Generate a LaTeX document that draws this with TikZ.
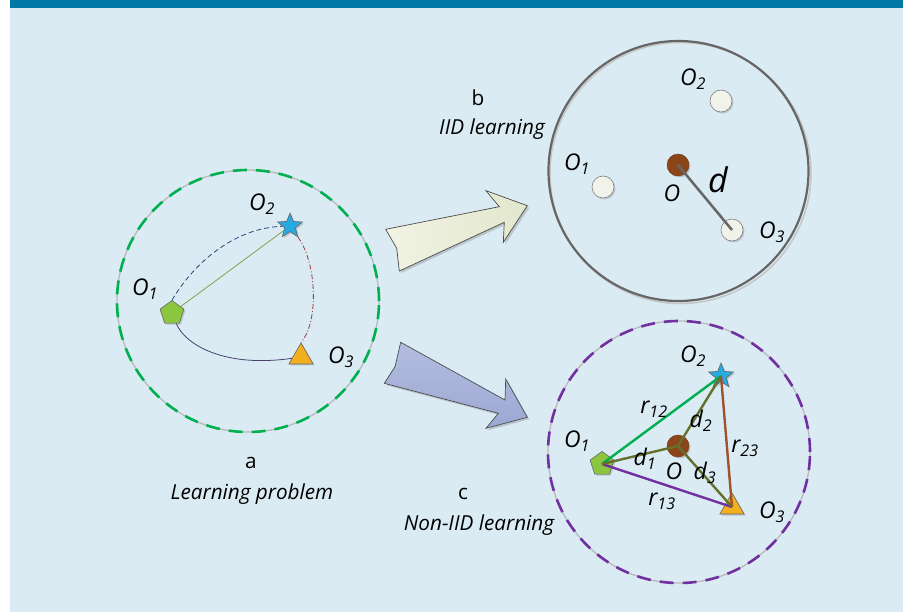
\documentclass[tikz,border=0pt]{standalone}
\usepackage{fontspec}
\setmainfont{Open Sans}
\usetikzlibrary{shapes.geometric,shadows}
\definecolor{bg}{HTML}{DAEBF4}
\definecolor{bar}{HTML}{0078A6}
\definecolor{dgreen}{HTML}{00B04F}
\definecolor{dpurple}{HTML}{7030A0}
\definecolor{pentgreen}{HTML}{8CC63F}
\definecolor{starblue}{HTML}{27A9E1}
\definecolor{trior}{HTML}{F2B01E}
\definecolor{brownc}{HTML}{8B4519}
\definecolor{olive}{HTML}{66702E}
\definecolor{rbrown}{HTML}{A0522D}
\definecolor{rgreen}{HTML}{00B050}
\definecolor{thinline}{HTML}{8AA04A}
\definecolor{navyd}{HTML}{2B4A7A}
\definecolor{dred}{HTML}{9A3A3A}
\definecolor{curvep}{HTML}{4A4070}
\definecolor{ringgray}{HTML}{666666}
\definecolor{whitec}{HTML}{F1F2EA}
\definecolor{arrAl}{HTML}{F2F3E4}
\definecolor{arrAr}{HTML}{E1E7CC}
\definecolor{arrBt}{HTML}{B4BDE0}
\definecolor{arrBb}{HTML}{9DA8D3}
\begin{document}
\begin{tikzpicture}[x=1pt,y=-1pt,
  shad/.style={drop shadow={shadow xshift=1.5pt,shadow yshift=-1.5pt,opacity=.35}},
  pent/.style={regular polygon,regular polygon sides=5,minimum size=25pt,inner sep=0pt,fill=pentgreen,draw=gray!80!black,line width=.6pt,shad},
  starn/.style={star,star points=5,star point ratio=2.3,minimum size=26pt,inner sep=0pt,fill=starblue,draw=gray!80!black,line width=.6pt,shad},
  trin/.style={regular polygon,regular polygon sides=3,minimum size=28pt,inner sep=0pt,fill=trior,draw=gray!80!black,line width=.6pt,shad},
  wdot/.style={circle,minimum size=22pt,inner sep=0pt,fill=whitec,draw=gray,line width=.6pt,shad},
  bdot/.style={circle,minimum size=22pt,inner sep=0pt,fill=brownc,draw=brownc!80!black,line width=.4pt,shad},
  lab/.style={font=\fontsize{23}{23}\selectfont\itshape,inner sep=0pt},
  captxt/.style={font=\fontsize{20.7}{22}\selectfont,inner sep=0pt},
  captxti/.style={font=\fontsize{20.7}{22}\selectfont\itshape,inner sep=0pt},
  rline/.style={line width=2.4pt},
  bigarrow/.style={draw=gray!60!black,line width=.7pt,drop shadow={shadow xshift=2pt,shadow yshift=-2pt,opacity=.35}}
]
\useasboundingbox (0,0) rectangle (903,612);
\fill[bar] (10,0) rectangle (903,8);
\fill[bg] (10,8) rectangle (903,612);

% ---------- circle a ----------
\node[circle,minimum size=262pt,inner sep=0pt,draw=gray!55,line width=1.3pt,
  postaction={draw=dgreen,line width=2.6pt,dash pattern=on 14pt off 9pt}] (ca) at (248,301) {};
\node[pent] (a1) at (172,313) {};
\node[starn] (a2) at (290,226) {};
\node[trin] (a3) at (301,357) {};
\draw[navyd,line width=.8pt,dash pattern=on 5pt off 3pt] (a1.north) .. controls (192,266) and (232,228) .. (a2);
\draw[thinline,line width=.8pt] (a1) -- (a2);
\draw[dred,line width=.8pt,dash pattern=on 5pt off 2pt on 1pt off 2pt] (a2) .. controls (318,265) and (318,324) .. (a3.north);
\draw[curvep,line width=.8pt] (a1) .. controls (185,345) and (225,368) .. (a3);
\node[lab] (la1) at (145,289) {O\textsubscript{1}};
\node[lab] (la2) at (262,204) {O\textsubscript{2}};
\node[lab] (la3) at (341,357) {O\textsubscript{3}};
\node[captxt] (capa) at (251,463) {a};
\node[captxti] (capai) at (252,494) {Learning problem};

% ---------- arrows ----------
\path[bigarrow,left color=arrAl,right color=arrAr] (385.7,229.3) -- (396.7,248.3) -- (399.3,271) -- (504.3,222.3) -- (503.3,242.3) -- (527.3,205.7) -- (486,190.7) -- (499.3,206.7) -- cycle;
\path[bigarrow,top color=arrBt,bottom color=arrBb] (400.7,342.3) -- (395,366.7) -- (384.3,383.3) -- (498.3,413.3) -- (486,428.3) -- (527.3,417.3) -- (505.7,379) -- (505,400) -- cycle;

% ---------- circle b ----------
\node[circle,minimum size=261pt,inner sep=0pt,draw=gray!45,line width=1.5pt] (cbs) at (680.5,173) {};
\node[circle,minimum size=260pt,inner sep=0pt,draw=ringgray,line width=2.2pt] (cb) at (678.5,171) {};
\node[wdot] (b2) at (721,101) {};
\node[wdot] (b1) at (603,187) {};
\node[wdot] (b3) at (732,230) {};
\node[bdot] (bO) at (678,165) {};
\draw[ringgray,line width=2.5pt] (bO.center) -- (b3.center);
\node[lab] (lb2) at (693,79) {O\textsubscript{2}};
\node[lab] (lb1) at (577,164) {O\textsubscript{1}};
\node[lab] (lbO) at (672,193) {O};
\node[lab,font=\fontsize{34}{34}\selectfont\itshape] (lbd) at (718,180) {d};
\node[lab] (lb3) at (772,232) {O\textsubscript{3}};
\node[captxt] (capb) at (478,98) {b};
\node[captxti] (capbi) at (492,129) {IID learning};

% ---------- circle c ----------
\node[circle,minimum size=262pt,inner sep=0pt,draw=gray!55,line width=1.3pt,
  postaction={draw=dpurple,line width=2.6pt,dash pattern=on 14pt off 9pt}] (cc) at (679,452) {};
\node[pent] (c1) at (602,464) {};
\node[starn] (c2) at (721,376) {};
\node[trin] (c3) at (732,507) {};
\node[bdot] (cO) at (678,446) {};
\draw[rline,rgreen] (c1.center) -- (c2.center);
\draw[rline,dpurple] (c1.center) -- (c3.center);
\draw[rline,rbrown] (c2.center) -- (c3.center);
\draw[rline,olive] (cO.center) -- (c1.center);
\draw[rline,olive] (cO.center) -- (c2.center);
\draw[rline,olive] (cO.center) -- (c3.center);
\node[lab] (lc2) at (693,356) {O\textsubscript{2}};
\node[lab] (lc1) at (577,441) {O\textsubscript{1}};
\node[lab] (lr12) at (654,409) {r\textsubscript{12}};
\node[lab] (ld2) at (701,421) {d\textsubscript{2}};
\node[lab] (lr23) at (745,448) {r\textsubscript{23}};
\node[lab] (ld1) at (645,459) {d\textsubscript{1}};
\node[lab] (lcO) at (674,471) {O};
\node[lab] (ld3) at (705,473) {d\textsubscript{3}};
\node[lab] (lr13) at (662,501) {r\textsubscript{13}};
\node[lab] (lc3) at (772,512) {O\textsubscript{3}};
\node[captxt] (capc) at (463,494) {c};
\node[captxti] (capci) at (479,525) {Non-IID learning};
\end{tikzpicture}
\end{document}
